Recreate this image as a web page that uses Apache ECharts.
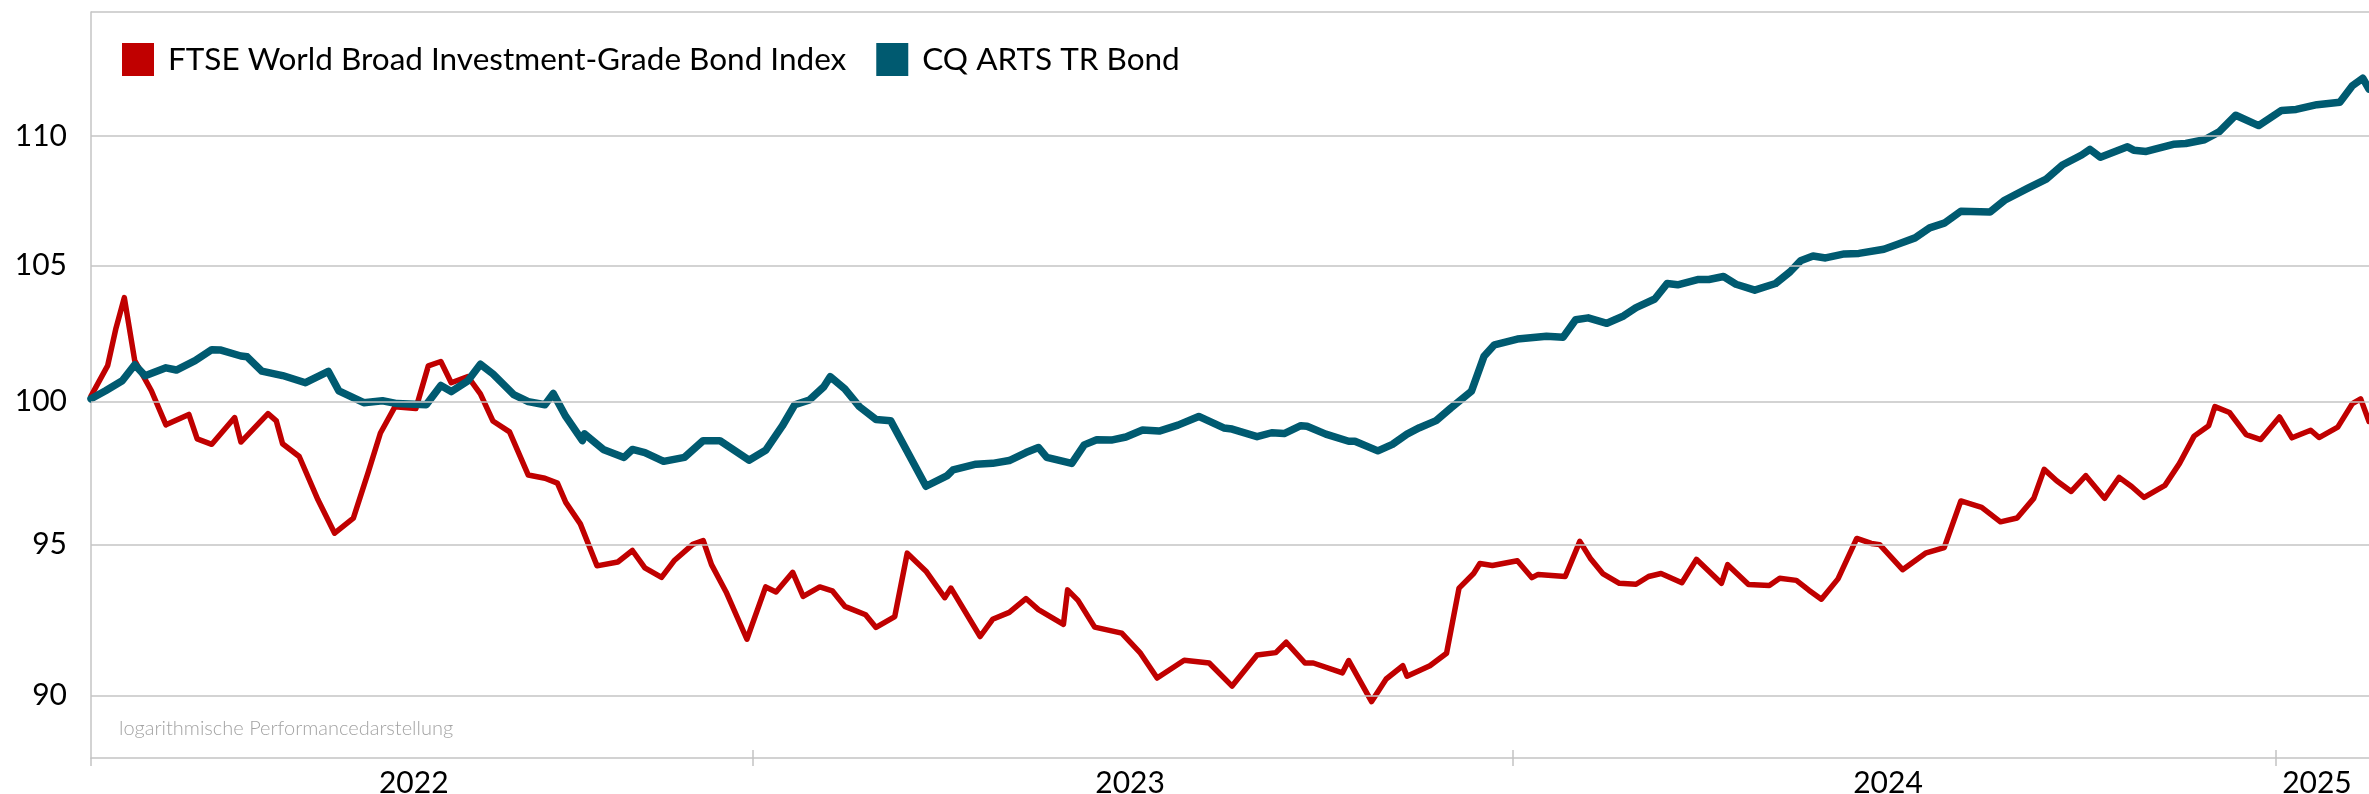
<!DOCTYPE html>
<html>
<head>
<meta charset="utf-8">
<title>FTSE WBIG vs CQ ARTS TR Bond</title>
<script src="https://cdn.jsdelivr.net/npm/echarts@6.0.0/dist/echarts.min.js"></script>
<style>
  html, body { margin: 0; padding: 0; background: #fff; }
  #chart { width: 2369px; height: 794px; }
</style>
</head>
<body>
<div id="chart"></div>
<script>
// values (indexed performance, log scale)
const seriesNames = ['FTSE World Broad Investment-Grade Bond Index', 'CQ ARTS TR Bond'];

const redDates = [
  '2022-02-17', '2022-02-25', '2022-03-01', '2022-03-05', '2022-03-10', '2022-03-18', '2022-03-25', '2022-04-05',
  '2022-04-09', '2022-04-16', '2022-04-27', '2022-04-30', '2022-05-13', '2022-05-17', '2022-05-20', '2022-05-28',
  '2022-06-06', '2022-06-14', '2022-06-23', '2022-06-30', '2022-07-06', '2022-07-13', '2022-07-23', '2022-07-29',
  '2022-08-04', '2022-08-09', '2022-08-17', '2022-08-23', '2022-08-29', '2022-09-06', '2022-09-15', '2022-09-23',
  '2022-09-29', '2022-10-03', '2022-10-10', '2022-10-18', '2022-10-28', '2022-11-04', '2022-11-10', '2022-11-18',
  '2022-11-24', '2022-12-03', '2022-12-08', '2022-12-12', '2022-12-19', '2022-12-29', '2023-01-07', '2023-01-12',
  '2023-01-20', '2023-01-25', '2023-02-02', '2023-02-08', '2023-02-14', '2023-02-24', '2023-03-01', '2023-03-10',
  '2023-03-16', '2023-03-25', '2023-04-03', '2023-04-06', '2023-04-20', '2023-04-26', '2023-05-04', '2023-05-12',
  '2023-05-18', '2023-05-30', '2023-06-01', '2023-06-06', '2023-06-14', '2023-06-27', '2023-07-06', '2023-07-14',
  '2023-07-27', '2023-08-08', '2023-08-19', '2023-08-31', '2023-09-09', '2023-09-14', '2023-09-23', '2023-09-27',
  '2023-10-11', '2023-10-14', '2023-10-25', '2023-11-01', '2023-11-09', '2023-11-11', '2023-11-22', '2023-11-30',
  '2023-12-06', '2023-12-13', '2023-12-16', '2023-12-22', '2024-01-03', '2024-01-10', '2024-01-13', '2024-01-26',
  '2024-02-02', '2024-02-07', '2024-02-13', '2024-02-21', '2024-02-29', '2024-03-06', '2024-03-12', '2024-03-22',
  '2024-03-29', '2024-04-10', '2024-04-13', '2024-04-23', '2024-05-03', '2024-05-08', '2024-05-16', '2024-05-22',
  '2024-05-28', '2024-06-05', '2024-06-14', '2024-06-21', '2024-06-25', '2024-07-06', '2024-07-17', '2024-07-26',
  '2024-08-03', '2024-08-13', '2024-08-22', '2024-08-30', '2024-09-07', '2024-09-12', '2024-09-18', '2024-09-25',
  '2024-10-02', '2024-10-11', '2024-10-18', '2024-10-24', '2024-10-30', '2024-11-09', '2024-11-16', '2024-11-23',
  '2024-11-30', '2024-12-03', '2024-12-10', '2024-12-18', '2024-12-25', '2025-01-03', '2025-01-09', '2025-01-18',
  '2025-01-22', '2025-01-31', '2025-02-07', '2025-02-11', '2025-02-15'
];
const redValues = [
  100.2, 101.3, 102.67, 103.8, 101.48, 100.39, 99.17, 99.54,
  98.67, 98.48, 99.43, 98.56, 99.57, 99.31, 98.5, 98.05,
  96.54, 95.39, 95.91, 97.47, 98.88, 99.82, 99.75, 101.29,
  101.45, 100.68, 100.9, 100.28, 99.31, 98.92, 97.4, 97.29,
  97.12, 96.45, 95.71, 94.28, 94.41, 94.8, 94.21, 93.89,
  94.45, 95.01, 95.14, 94.32, 93.4, 91.83, 93.57, 93.4,
  94.06, 93.25, 93.57, 93.44, 92.92, 92.64, 92.22, 92.58,
  94.71, 94.1, 93.21, 93.53, 91.92, 92.49, 92.72, 93.18,
  92.81, 92.32, 93.47, 93.12, 92.23, 92.03, 91.37, 90.56,
  91.14, 91.05, 90.3, 91.31, 91.39, 91.73, 91.05, 91.05,
  90.73, 91.13, 89.8, 90.53, 90.96, 90.62, 90.96, 91.37,
  93.53, 94.02, 94.36, 94.29, 94.45, 93.88, 93.99, 93.92,
  95.11, 94.54, 94.02, 93.69, 93.66, 93.92, 94.02, 93.71,
  94.5, 93.69, 94.32, 93.65, 93.62, 93.86, 93.79, 93.46,
  93.16, 93.84, 95.21, 95.04, 95.0, 94.15, 94.71, 94.9,
  96.5, 96.28, 95.78, 95.91, 96.59, 97.6, 97.2, 96.83,
  97.38, 96.59, 97.32, 97.0, 96.62, 97.04, 97.81, 98.77,
  99.14, 99.82, 99.61, 98.82, 98.65, 99.45, 98.71, 98.98,
  98.72, 99.09, 99.93, 100.1, 99.29
];

const blueDates = [
  '2022-02-17', '2022-02-24', '2022-03-04', '2022-03-10', '2022-03-15', '2022-03-25', '2022-03-30', '2022-04-08',
  '2022-04-16', '2022-04-20', '2022-04-30', '2022-05-03', '2022-05-10', '2022-05-20', '2022-05-31', '2022-06-11',
  '2022-06-16', '2022-06-28', '2022-07-07', '2022-07-14', '2022-07-28', '2022-08-04', '2022-08-09', '2022-08-17',
  '2022-08-23', '2022-08-29', '2022-09-08', '2022-09-15', '2022-09-23', '2022-09-27', '2022-10-03', '2022-10-11',
  '2022-10-12', '2022-10-21', '2022-10-31', '2022-11-04', '2022-11-10', '2022-11-19', '2022-11-29', '2022-12-08',
  '2022-12-16', '2022-12-30', '2023-01-07', '2023-01-15', '2023-01-21', '2023-01-28', '2023-02-04', '2023-02-07',
  '2023-02-14', '2023-02-21', '2023-03-01', '2023-03-08', '2023-03-16', '2023-03-25', '2023-04-04', '2023-04-07',
  '2023-04-18', '2023-04-26', '2023-05-04', '2023-05-12', '2023-05-18', '2023-05-22', '2023-06-03', '2023-06-09',
  '2023-06-15', '2023-06-22', '2023-06-29', '2023-07-07', '2023-07-15', '2023-07-24', '2023-08-03', '2023-08-15',
  '2023-08-19', '2023-08-31', '2023-09-07', '2023-09-13', '2023-09-21', '2023-09-24', '2023-10-03', '2023-10-14',
  '2023-10-17', '2023-10-28', '2023-11-04', '2023-11-11', '2023-11-17', '2023-11-25', '2023-12-02', '2023-12-12',
  '2023-12-18', '2023-12-23', '2024-01-03', '2024-01-17', '2024-01-25', '2024-01-31', '2024-02-06', '2024-02-15',
  '2024-02-23', '2024-02-29', '2024-03-09', '2024-03-15', '2024-03-20', '2024-03-30', '2024-04-04', '2024-04-11',
  '2024-04-17', '2024-04-26', '2024-05-06', '2024-05-13', '2024-05-18', '2024-05-24', '2024-05-30', '2024-06-08',
  '2024-06-15', '2024-06-27', '2024-07-04', '2024-07-12', '2024-07-19', '2024-07-26', '2024-08-03', '2024-08-17',
  '2024-08-24', '2024-09-04', '2024-09-13', '2024-09-21', '2024-09-30', '2024-10-04', '2024-10-09', '2024-10-22',
  '2024-10-25', '2024-10-31', '2024-11-13', '2024-11-19', '2024-11-28', '2024-12-05', '2024-12-13', '2024-12-24',
  '2025-01-04', '2025-01-11', '2025-01-21', '2025-02-01', '2025-02-07', '2025-02-12', '2025-02-15'
];
const blueValues = [
  100.1, 100.39, 100.75, 101.33, 100.93, 101.22, 101.14, 101.48,
  101.88, 101.87, 101.65, 101.62, 101.1, 100.94, 100.68, 101.09,
  100.39, 99.96, 100.03, 99.93, 99.89, 100.58, 100.36, 100.75,
  101.35, 101.0, 100.25, 100.0, 99.89, 100.29, 99.47, 98.61,
  98.85, 98.3, 98.02, 98.3, 98.19, 97.88, 98.02, 98.61,
  98.61, 97.92, 98.27, 99.13, 99.89, 100.06, 100.54, 100.9,
  100.46, 99.82, 99.36, 99.32, 98.23, 97.01, 97.37, 97.58,
  97.78, 97.81, 97.91, 98.19, 98.37, 98.02, 97.81, 98.46,
  98.64, 98.63, 98.74, 98.99, 98.95, 99.16, 99.47, 99.06,
  99.02, 98.75, 98.89, 98.86, 99.14, 99.12, 98.84, 98.59,
  98.59, 98.25, 98.48, 98.84, 99.07, 99.32, 99.77, 100.38,
  101.64, 102.06, 102.27, 102.37, 102.34, 102.98, 103.05, 102.85,
  103.12, 103.43, 103.75, 104.33, 104.28, 104.48, 104.48, 104.59,
  104.3, 104.08, 104.33, 104.77, 105.18, 105.36, 105.29, 105.44,
  105.46, 105.62, 105.82, 106.05, 106.43, 106.61, 107.07, 107.04,
  107.49, 107.95, 108.31, 108.87, 109.25, 109.47, 109.16, 109.57,
  109.44, 109.39, 109.67, 109.7, 109.85, 110.16, 110.82, 110.41,
  111.01, 111.05, 111.24, 111.34, 112.0, 112.3, 111.86
];

const yTicks = [90, 95, 100, 105, 110];
const yearTicks = ['2023-01-01', '2024-01-01', '2025-01-01'];
const yearLabelDates = ['2022-07-22', '2023-07-01', '2024-06-29', '2025-01-21'];
const startDate = '2022-02-17';
const endDate = '2025-02-15';
const yMin = 88;
const yMax = 115;
const noteText = 'logarithmische Performancedarstellung';

const FONT = 'Lato, "Noto Sans", sans-serif';
const GRID_COLOR = '#c4c4c4';
const RED = '#c00000';
const BLUE = '#005a70';

// time values as ms, so the x axis can be a plain value axis with custom ticks
function ms(d) {
  return Date.parse(d);
}

function pairs(dates, values) {
  return dates.map((d, i) => [ms(d), values[i]]);
}

const chart = echarts.init(document.getElementById('chart'));

chart.setOption({
  animation: false,
  textStyle: { fontFamily: FONT },
  grid: { left: 91, right: 0, top: 12, bottom: 36, outerBoundsMode: 'none', containLabel: false },
  legend: {
    data: seriesNames,
    left: 117,
    top: 38,
    icon: 'rect',
    itemWidth: 32,
    itemHeight: 33,
    itemGap: 30,
    textStyle: { fontSize: 31.5, color: '#000', fontFamily: FONT, padding: [0, 0, 0, 9] },
  },
  graphic: [{
    type: 'text',
    left: 119,
    top: 719,
    style: { text: noteText, fontSize: 20, fontWeight: 300, fill: '#a3a3a3', fontFamily: FONT },
  }],
  xAxis: [{
    type: 'value',
    min: ms(startDate),
    max: ms(endDate),
    axisLine: { onZero: false, lineStyle: { color: GRID_COLOR, width: 1.5 } },
    axisTick: {
      show: true,
      customValues: [startDate].concat(yearTicks).map(ms),
      length: 8,
      lineStyle: { color: GRID_COLOR, width: 1.5 },
    },
    axisLabel: {
      customValues: yearLabelDates.map(ms),
      formatter: (v) => String(new Date(v).getUTCFullYear()),
      fontSize: 30,
      color: '#000',
      fontFamily: FONT,
      margin: 10,
    },
    splitLine: { show: false },
  }, {
    type: 'value',
    position: 'bottom',
    min: ms(startDate),
    max: ms(endDate),
    axisLine: { show: false, onZero: false },
    axisTick: {
      show: true,
      inside: true,
      customValues: yearTicks.map(ms),
      length: 8,
      lineStyle: { color: GRID_COLOR, width: 1.5 },
    },
    axisLabel: { show: false },
    splitLine: { show: false },
  }],
  yAxis: {
    type: 'log',
    logBase: 10,
    min: yMin,
    max: yMax,
    axisLine: { show: true, onZero: false, lineStyle: { color: GRID_COLOR, width: 1.5 } },
    axisTick: { show: false },
    axisLabel: { show: false },
    splitLine: { show: false },
  },
  series: [
    {
      name: 'gridlines',
      type: 'line',
      data: [],
      z: 1,
      silent: true,
      markLine: {
        silent: true,
        symbol: 'none',
        animation: false,
        lineStyle: { color: GRID_COLOR, width: 1.5, type: 'solid' },
        label: {
          position: 'start',
          distance: 24,
          fontSize: 30,
          color: '#000',
          fontFamily: FONT,
          formatter: (p) => (yTicks.indexOf(p.value) >= 0 ? String(p.value) : ''),
        },
        emphasis: { disabled: true },
        data: yTicks.concat([yMax]).map((v) => ({ yAxis: v })),
      },
    },
    {
      name: seriesNames[0],
      type: 'line',
      data: pairs(redDates, redValues),
      showSymbol: false,
      z: 3,
      itemStyle: { color: RED },
      lineStyle: { color: RED, width: 5.5, cap: 'round', join: 'round' },
    },
    {
      name: seriesNames[1],
      type: 'line',
      data: pairs(blueDates, blueValues),
      showSymbol: false,
      z: 4,
      itemStyle: { color: BLUE },
      lineStyle: { color: BLUE, width: 7.5, cap: 'round', join: 'round' },
    },
  ],
});

window.addEventListener('resize', () => {
  chart.resize();
});
</script>
</body>
</html>
